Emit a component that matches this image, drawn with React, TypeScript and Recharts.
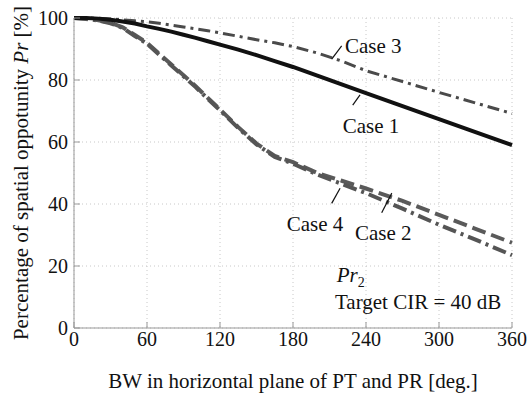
import { LineChart, Line, XAxis, YAxis, CartesianGrid, ReferenceLine, ReferenceDot } from 'recharts';

const bw = [0, 10, 20, 30, 40, 50, 60, 70, 80, 90, 100, 110, 120, 135, 150, 165, 180, 200, 220, 240, 270, 300, 330, 360];
const case1 = [100, 100, 99.8, 99.4, 98.9, 98.2, 97.3, 96.5, 95.6, 94.6, 93.6, 92.5, 91.4, 89.8, 88, 86.1, 84.2, 81.4, 78.6, 75.8, 71.6, 67.4, 63.2, 59];
const case2 = [100, 99.8, 99.3, 98.5, 97, 94.5, 92, 88.5, 85, 81.5, 78, 74.2, 70.5, 64.8, 59.5, 55.5, 53.5, 50, 47.5, 45, 41, 36.5, 32, 27.5];
const case3 = [100, 100, 99.9, 99.7, 99.4, 99.1, 98.8, 98.3, 97.7, 97.1, 96.5, 95.9, 95.2, 94.1, 93, 92, 90.8, 88.7, 86.1, 83, 79.5, 76, 72.6, 69.2];
const case4 = [100, 99.7, 99.2, 98.3, 96.8, 94.2, 91.7, 88.2, 84.7, 81.2, 77.7, 73.9, 70.2, 64.5, 59.2, 55.2, 53, 49.5, 46.5, 43.5, 38.5, 33.3, 28.5, 23.5];

const xTicks = [0, 60, 120, 180, 240, 300, 360];
const yTicks = [0, 20, 40, 60, 80, 100];

// text annotations and their pointer lines, in data units
const notes = [
  { x: 222.7, y: 88.7, text: 'Case 3' },
  { x: 220.8, y: 63, text: 'Case 1' },
  { x: 174.8, y: 31.4, text: 'Case 4' },
  { x: 231, y: 28.4, text: 'Case 2' },
];
const pointers = [
  [{ x: 211.8, y: 86.7 }, { x: 220, y: 91 }],
  [{ x: 229.1, y: 71.9 }, { x: 235.1, y: 75.2 }],
  [{ x: 211.8, y: 40.2 }, { x: 218.7, y: 45.1 }],
  [{ x: 252.9, y: 37.2 }, { x: 261.2, y: 43.5 }],
];

const data = bw.map((b, i) => ({ bw: b, c1: case1[i], c2: case2[i], c3: case3[i], c4: case4[i] }));

const FONT = 'Liberation Serif';
const AXIS = '#999';
const TICK_FS = 20;
const FS = 21;
const noTick = () => <g />;

const XTick = (p: any) => (
  <text x={p.x} y={p.y + 13.5} textAnchor="middle" fontSize={TICK_FS} fontFamily={FONT} fill="#111">
    {p.payload.value}
  </text>
);
const YTick = (p: any) => (
  <text x={p.x} y={p.y + 7} textAnchor="end" fontSize={TICK_FS} fontFamily={FONT} fill="#111">
    {p.payload.value}
  </text>
);

export default function App() {
  return (
    <div style={{ position: 'absolute', left: 0, top: 0, fontFamily: FONT }}>
      <LineChart width={528} height={393} data={data} margin={{ top: 18, right: 16, bottom: 3, left: 24 }}>
        <CartesianGrid stroke="#c8c8c8" strokeDasharray="1 3" />
        <XAxis
          dataKey="bw"
          type="number"
          domain={[0, 360]}
          ticks={xTicks}
          height={62}
          stroke={AXIS}
          tickSize={-6}
          tickMargin={10}
          tick={XTick}
          label={{
            content: (p: any) => (
              <text x={p.viewBox.x + p.viewBox.width / 2} y={388} textAnchor="middle" fontSize={FS} fontFamily={FONT} fill="#111">
                BW in horizontal plane of PT and PR [deg.]
              </text>
            ),
          }}
        />
        <XAxis xAxisId="top" orientation="top" dataKey="bw" type="number" domain={[0, 360]} ticks={xTicks} height={0} stroke={AXIS} tickSize={6} tick={noTick} />
        <YAxis
          type="number"
          domain={[0, 100]}
          ticks={yTicks}
          width={50}
          stroke={AXIS}
          tickSize={-6}
          tickMargin={12}
          tick={YTick}
          label={{
            content: (p: any) => {
              const cy = p.viewBox.y + p.viewBox.height / 2;
              return (
                <text x={28} y={cy} transform={`rotate(-90, 28, ${cy})`} textAnchor="middle" fontSize={FS} fontFamily={FONT} fill="#111">
                  Percentage of spatial oppotunity <tspan fontStyle="italic">Pr</tspan> [%]
                </text>
              );
            },
          }}
        />
        <YAxis yAxisId="right" orientation="right" type="number" domain={[0, 100]} ticks={yTicks} width={0} stroke={AXIS} tickSize={6} tick={noTick} />

        <Line dataKey="c3" stroke="#4a4a4a" strokeWidth={3} strokeDasharray="12 5 3 5" dot={false} isAnimationActive={false} />
        <Line dataKey="c2" stroke="#5a5a5a" strokeWidth={4} strokeDasharray="14 6" dot={false} isAnimationActive={false} />
        <Line dataKey="c4" stroke="#555" strokeWidth={4} strokeDasharray="14 5 3 5" dot={false} isAnimationActive={false} />
        <Line dataKey="c1" stroke="#111" strokeWidth={4} dot={false} isAnimationActive={false} />

        {pointers.map((seg, i) => (
          <ReferenceLine key={`p${i}`} segment={seg} stroke="#111" strokeWidth={1.2} />
        ))}
        {notes.map((n) => (
          <ReferenceDot
            key={n.text}
            x={n.x}
            y={n.y}
            r={0}
            stroke="none"
            label={(p: any) => (
              <text x={p.viewBox.x} y={p.viewBox.y} fontSize={FS} fontFamily={FONT} fill="#111">
                {n.text}
              </text>
            )}
          />
        ))}
        <ReferenceDot
          x={215.9}
          y={14.9}
          r={0}
          stroke="none"
          label={(p: any) => (
            <text x={p.viewBox.x} y={p.viewBox.y} fontSize={FS} fontFamily={FONT} fill="#111">
              <tspan fontStyle="italic">Pr</tspan>
              <tspan fontSize={14} dy={5}>2</tspan>
            </text>
          )}
        />
        <ReferenceDot
          x={214.5}
          y={6.1}
          r={0}
          stroke="none"
          label={(p: any) => (
            <text x={p.viewBox.x} y={p.viewBox.y} fontSize={FS} fontFamily={FONT} fill="#111">
              Target CIR = 40 dB
            </text>
          )}
        />
      </LineChart>
    </div>
  );
}
